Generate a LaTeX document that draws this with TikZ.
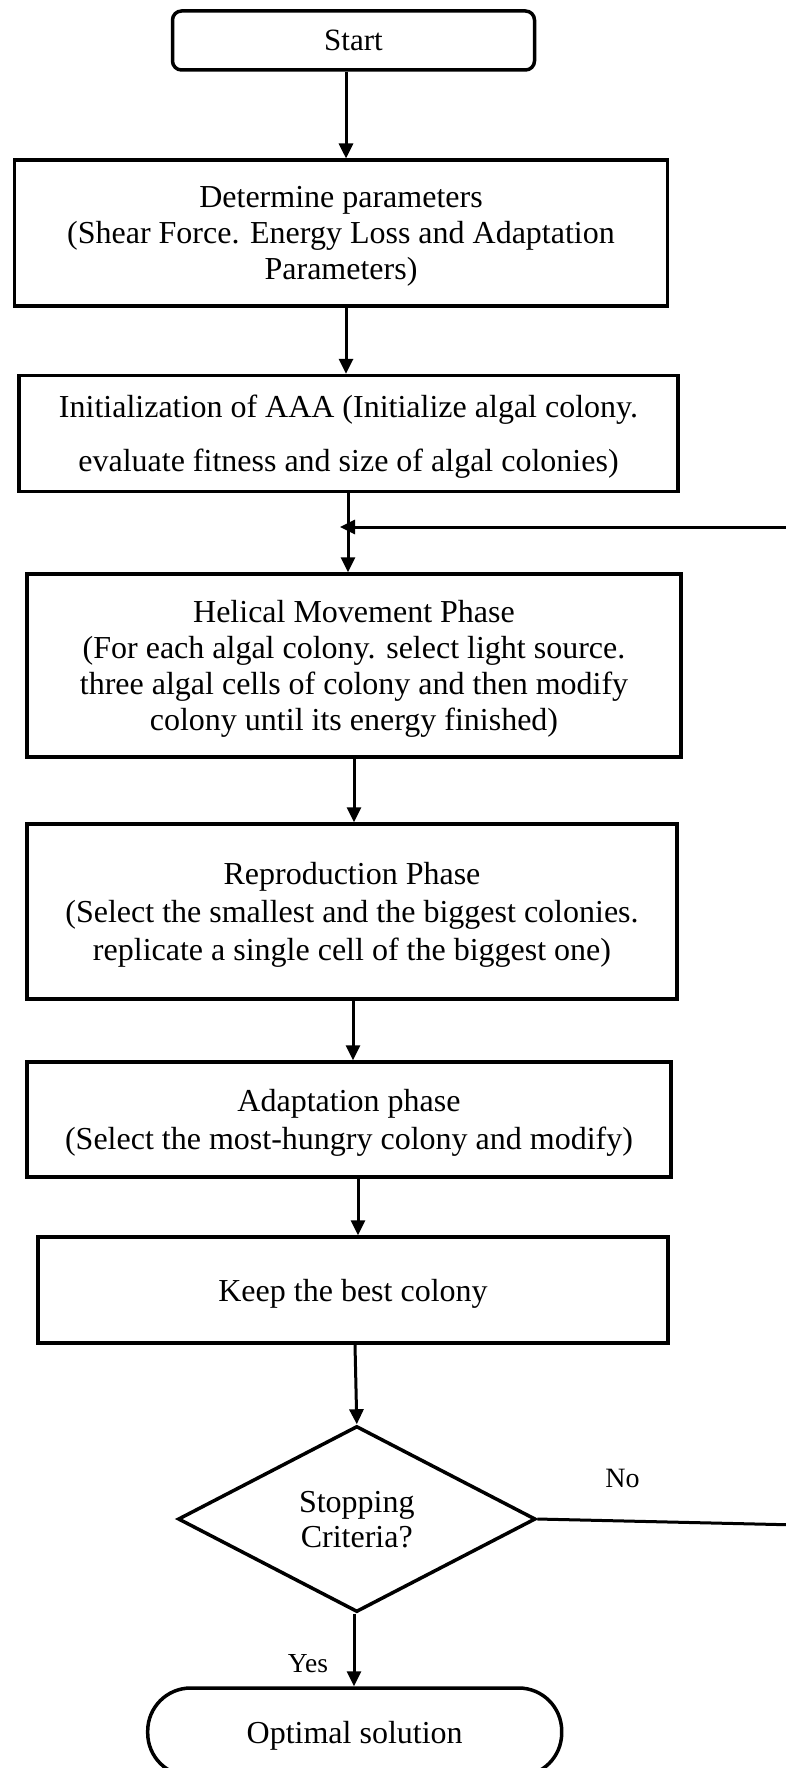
\documentclass[tikz,border=0pt]{standalone}
\usepackage{fontspec}
\setmainfont{Liberation Serif}
\usetikzlibrary{arrows.meta,shapes.geometric,calc}
\tikzset{
  box/.style={draw,line width=3.5pt,rectangle,inner sep=0pt,align=center,text depth=0pt,font=\fontsize{32}{36}\selectfont},
  conn/.style={line width=3pt,-{Triangle[length=15pt,width=14pt]}},
  plain/.style={line width=3pt},
  lbl/.style={inner sep=0pt}
}
\begin{document}
\begin{tikzpicture}[x=1pt,y=-1pt]
\useasboundingbox (0,0) rectangle (786,1768);
\clip (0,0) rectangle (786,1768);
\node[box,rounded corners=9pt,minimum width=362pt,minimum height=59pt,font=\fontsize{31}{36}\selectfont] (start) at (353.5,40.5) {Start};
\node[box,minimum width=653pt,minimum height=145.6pt] (det) at (341,233) {Determine parameters\\(Shear Force. Energy Loss and Adaptation\\Parameters)};
\node[box,minimum width=659pt,minimum height=116pt,font=\fontsize{32}{54}\selectfont] (init) at (348.5,433.6) {Initialization of AAA (Initialize algal colony.\\evaluate fitness and size of algal colonies)};
\node[box,minimum width=654pt,minimum height=183pt] (hel) at (354,665.5) {Helical Movement Phase\\(For each algal colony. select light source.\\three algal cells of colony and then modify\\colony until its energy finished)};
\node[box,minimum width=650pt,minimum height=175pt,font=\fontsize{32}{38}\selectfont] (rep) at (352,911.5) {Reproduction Phase\\(Select the smallest and the biggest colonies.\\replicate a single cell of the biggest one)};
\node[box,minimum width=644pt,minimum height=115pt,font=\fontsize{32}{38}\selectfont] (ada) at (349,1119.5) {Adaptation phase\\(Select the most-hungry colony and modify)};
\node[box,minimum width=630pt,minimum height=106pt] (keep) at (353,1290) {Keep the best colony};
\node[draw,line width=3.5pt,diamond,inner sep=0pt,text depth=0pt,minimum width=357.6pt,minimum height=186pt,align=center,font=\fontsize{32}{35}\selectfont] (stop) at (356.8,1519) {Stopping\\Criteria?};
\node[box,rounded corners=43pt,minimum width=414pt,minimum height=88pt] (opt) at (354.7,1732) {Optimal solution};
\coordinate (merge) at (348,527);
\coordinate (tip) at (340,527);
\coordinate (fbR) at (786,527);
\coordinate (noR) at (786,1524.7);
\draw[conn] (start.south -| 346,0) -- (det.north -| 346,0);
\draw[conn] (det.south -| 346,0) -- (init.north -| 346,0);
\draw[conn] (init.south -| merge) -- (hel.north -| merge);
\draw[conn] (fbR) -- (tip);
\draw[conn] (hel.south -| 354,0) -- (rep.north -| 354,0);
\draw[conn] (rep.south -| 353,0) -- (ada.north -| 353,0);
\draw[conn] (ada.south -| 358,0) -- (keep.north -| 358,0);
\draw[conn] (keep.south -| 355,0) -- (stop.north);
\draw[conn] (stop.south -| 354,0) -- (opt.north -| 354,0);
\draw[plain] (stop.east) -- (noR);
\node[lbl,font=\fontsize{28}{30}\selectfont] (no) at (622.5,1478) {No};
\node[lbl,font=\fontsize{27.5}{30}\selectfont] (yes) at (308,1664) {Yes};
\end{tikzpicture}
\end{document}
